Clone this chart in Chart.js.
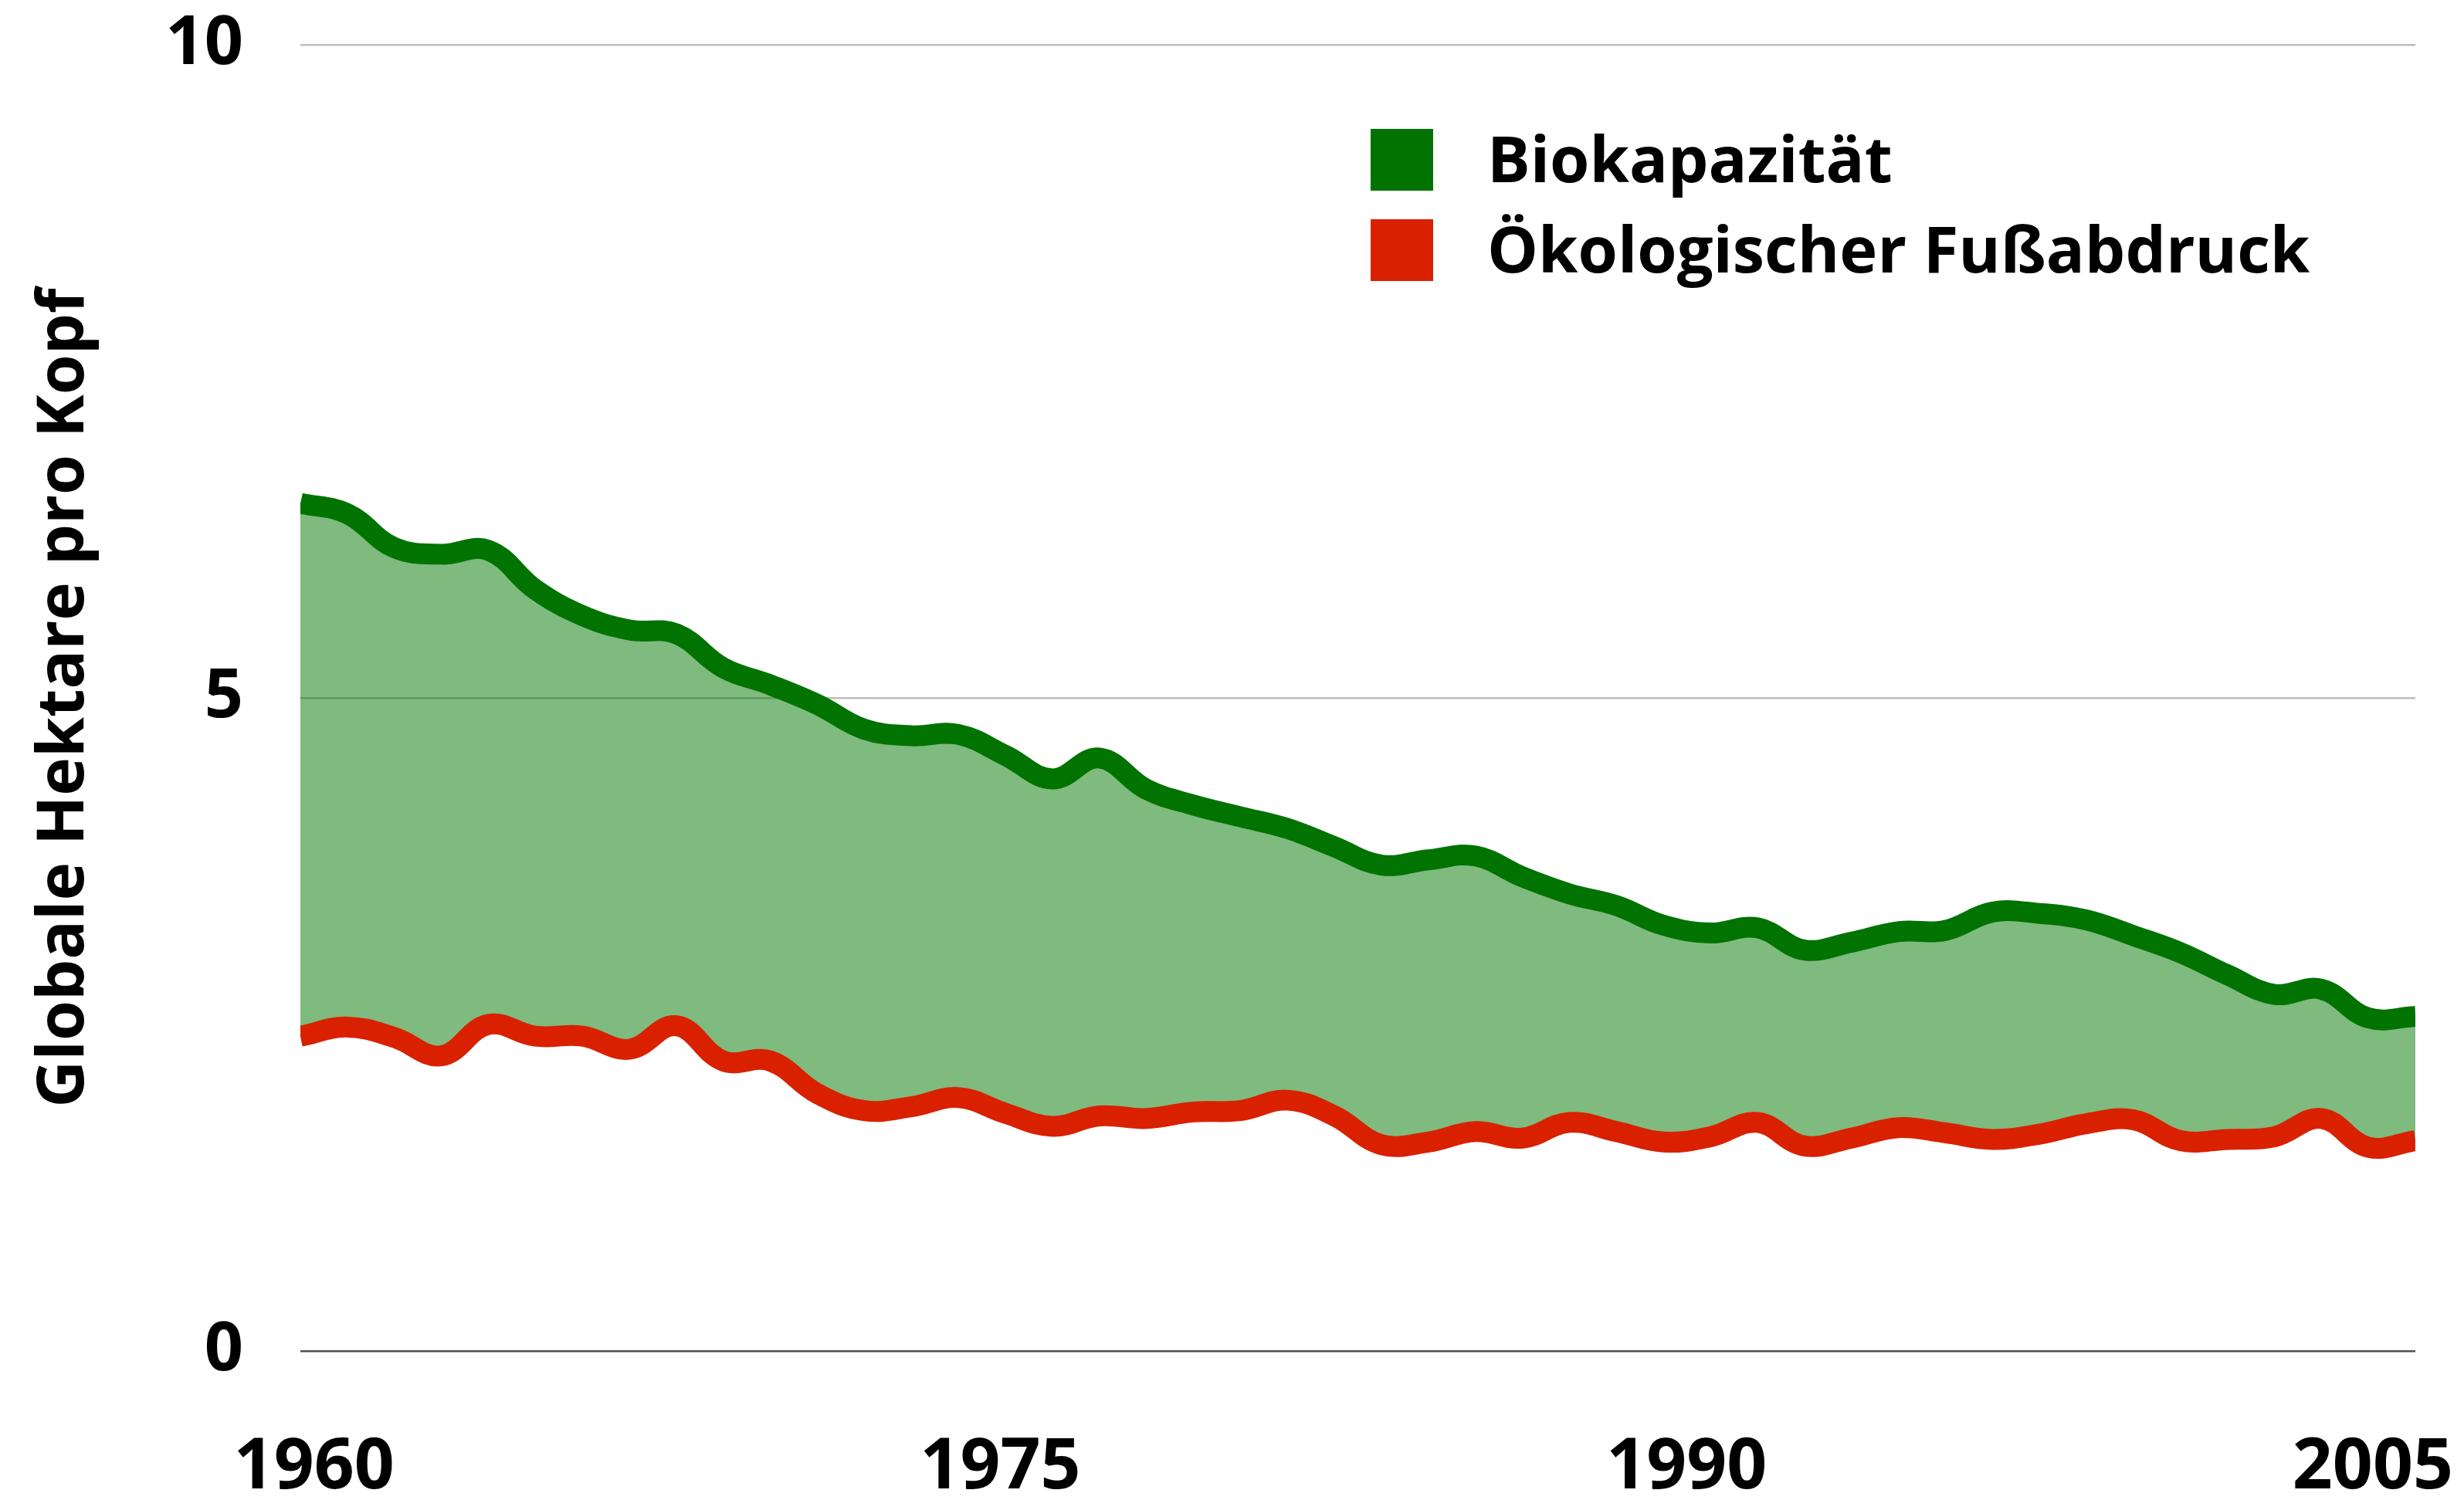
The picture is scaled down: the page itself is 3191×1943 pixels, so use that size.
<!DOCTYPE html>
<html>
<head>
<meta charset="utf-8">
<title>Biokapazität und Ökologischer Fußabdruck</title>
<script src="https://cdn.jsdelivr.net/npm/chart.js@4.4.1/dist/chart.umd.min.js"></script>
<style>
  html, body { margin: 0; padding: 0; background: #fff; overflow: hidden; }
  #wrap { position: relative; width: 3191px; height: 1943px; }
  #legend {
    position: absolute; left: 1775px; top: 167px;
    font-family: "Open Sans", sans-serif; font-weight: 700; font-size: 83px; color: #000;
  }
  .row { display: flex; align-items: center; height: 80px; margin-bottom: 37px; }
  .box { width: 81px; height: 80px; margin-right: 70px; flex: none; }
  .txt { line-height: 80px; margin-top: -6px; white-space: nowrap; }
</style>
</head>
<body>
<div id="wrap">
  <canvas id="chart" width="3191" height="1943"></canvas>
  <div id="legend"></div>
</div>
<script>
// Jahre (x-Werte)
const years = [1960, 1961, 1962, 1963, 1964, 1965, 1966, 1967, 1968, 1969,
  1970, 1971, 1972, 1973, 1974, 1975, 1976, 1977, 1978, 1979,
  1980, 1981, 1982, 1983, 1984, 1985, 1986, 1987, 1988, 1989,
  1990, 1991, 1992, 1993, 1994, 1995, 1996, 1997, 1998, 1999,
  2000, 2001, 2002, 2003, 2004, 2005];

// globale Hektar pro Kopf
const biokapazitaet = [6.49, 6.41, 6.15, 6.10, 6.13, 5.83, 5.63, 5.52, 5.49, 5.23,
  5.10, 4.95, 4.76, 4.71, 4.72, 4.56, 4.38, 4.54, 4.30, 4.18,
  4.09, 4.00, 3.86, 3.72, 3.76, 3.79, 3.63, 3.50, 3.41, 3.26,
  3.20, 3.24, 3.07, 3.13, 3.21, 3.22, 3.36, 3.35, 3.30, 3.18,
  3.05, 2.88, 2.73, 2.77, 2.55, 2.56];

const fussabdruck = [2.41, 2.48, 2.40, 2.26, 2.50, 2.41, 2.41, 2.31, 2.49, 2.22,
  2.22, 1.97, 1.84, 1.87, 1.94, 1.82, 1.72, 1.80, 1.78, 1.83,
  1.84, 1.92, 1.80, 1.58, 1.60, 1.68, 1.63, 1.75, 1.68, 1.60,
  1.64, 1.75, 1.57, 1.63, 1.71, 1.67, 1.62, 1.66, 1.74, 1.77,
  1.61, 1.62, 1.64, 1.78, 1.56, 1.61];

const seriesNames = ["Biokapazität", "Ökologischer Fußabdruck"];
const seriesColors = ["#007300", "#d92100"];
const xTicks = [1960, 1975, 1990, 2005];
const yTicks = [0, 5, 10];

const toPoints = (vals) => vals.map((v, i) => ({ x: years[i], y: v }));

// Legende als HTML
const legend = document.getElementById("legend");
legend.innerHTML = seriesNames.map((name, i) => `
  <div class="row">
    <div class="box" style="background:${seriesColors[i]}"></div>
    <div class="txt">${name}</div>
  </div>`).join("");

const tickFont = { family: "'Open Sans', sans-serif", weight: "bold", size: 88 };

new Chart(document.getElementById("chart"), {
  type: "line",
  data: {
    datasets: [
      {
        label: seriesNames[0],
        data: toPoints(biokapazitaet),
        borderColor: seriesColors[0],
        backgroundColor: "rgba(0, 117, 0, 0.5)",
        borderWidth: 27,
        fill: "+1",
        order: 1,
        pointRadius: 0,
        tension: 0.4
      },
      {
        label: seriesNames[1],
        data: toPoints(fussabdruck),
        borderColor: seriesColors[1],
        borderWidth: 27,
        fill: false,
        order: 0,
        pointRadius: 0,
        tension: 0.4
      }
    ]
  },
  options: {
    responsive: false,
    animation: false,
    devicePixelRatio: 1,
    layout: { padding: { left: 0, right: 63, top: 58, bottom: 0 } },
    plugins: {
      legend: { display: false },
      tooltip: { enabled: false }
    },
    scales: {
      x: { type: "linear", min: 1960, max: 2005, display: false },
      // Beschriftungsachse (Jahreszahlen wie im Original leicht eingerückt)
      xl: {
        type: "linear",
        position: "bottom",
        min: 1959.7,
        max: 2005.93,
        afterBuildTicks: (s) => { s.ticks = xTicks.map((v) => ({ value: v })); },
        afterFit: (s) => { s.height = 193; s.paddingLeft = 0; s.paddingRight = 0; },
        grid: { display: false, drawTicks: false },
        border: { display: false },
        ticks: {
          font: { ...tickFont, size: 91 },
          color: "#000",
          padding: 97,
          maxRotation: 0,
          autoSkip: false,
          callback: (v) => String(v)
        }
      },
      y: {
        min: 0,
        max: 10,
        afterBuildTicks: (s) => { s.ticks = yTicks.map((v) => ({ value: v })); },
        afterFit: (s) => { s.width = 389; s.paddingTop = 0; s.paddingBottom = 0; },
        grid: {
          color: (c) => (c.tick && c.tick.value === 0 ? "#4d5252" : "#bdbdbd"),
          lineWidth: 2.5,
          drawTicks: false
        },
        border: { display: false },
        ticks: { font: tickFont, color: "#000", padding: 74 },
        title: {
          display: true,
          text: "Globale Hektare pro Kopf",
          color: "#000",
          font: { family: "'Open Sans', sans-serif", weight: "bold", size: 84 },
          padding: { top: 34, bottom: 0 }
        }
      }
    }
  }
});
</script>
</body>
</html>
